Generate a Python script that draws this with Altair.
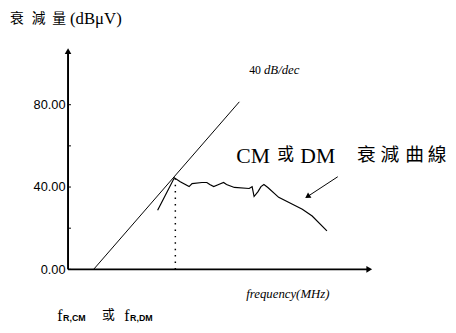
import altair as alt
import pandas as pd

# ---- data (x in arbitrary frequency units, y in dBμV) ----
asym_x = [26, 174]
asym_y = [0.0, 81.4]

curve_x = [91, 108, 114, 123, 126, 136, 141, 144, 148, 153, 158, 161, 169,
           184, 187, 189, 193, 196, 199, 203, 214, 228, 238, 248, 263]
curve_y = [28.7, 44.5, 42.6, 40.2, 41.7, 42.2, 42.2, 41.2, 40.2, 41.2, 42.2,
           41.2, 39.8, 39.3, 40.2, 35.4, 37.8, 40.2, 41.2, 39.8, 35.0, 31.6,
           29.2, 25.9, 18.7]

corner_x = 109
corner_y = 44.0

y_tick_values = [0, 20, 40, 60, 80]
y_label_values = [0, 40, 80]

pointer_x = [274, 244]
pointer_y = [45.0, 35.6]

X_MAX = 310
Y_MAX = 110

xs = alt.Scale(domain=[0, X_MAX], nice=False, zero=False)
ys = alt.Scale(domain=[0, Y_MAX], nice=False, zero=False)
yaxis = alt.Axis(values=y_label_values, format=".2f", domain=False, ticks=False,
                 grid=False, title=None, labelFont="Liberation Sans Narrow, Liberation Sans",
                 labelFontSize=13, labelColor="#000", labelPadding=3)


def X(f="x"):
    return alt.X(f"{f}:Q", scale=xs, axis=None)


def Y(f="y"):
    return alt.Y(f"{f}:Q", scale=ys, axis=yaxis)


asym_df = pd.DataFrame({"x": asym_x, "y": asym_y})
curve_df = pd.DataFrame({"x": curve_x, "y": curve_y, "i": range(len(curve_x))})

asym = alt.Chart(asym_df).mark_line(color="black", strokeWidth=1).encode(x=X(), y=Y())
curve = alt.Chart(curve_df).mark_line(color="black", strokeWidth=1.2).encode(
    x=X(), y=Y(), order="i:Q")

dotted = alt.Chart(pd.DataFrame({"x": [corner_x], "y": [0], "y2": [corner_y]})).mark_rule(
    color="black", strokeWidth=1.5, strokeDash=[1.5, 5]).encode(x=X(), y=Y(), y2="y2:Q")

# axes lines
yline = alt.Chart(pd.DataFrame({"x": [0], "y": [0], "y2": [106]})).mark_rule(
    color="black", strokeWidth=2).encode(x=X(), y=Y(), y2="y2:Q")
xline = alt.Chart(pd.DataFrame({"x": [0], "x2": [306], "y": [0]})).mark_rule(
    color="black", strokeWidth=2).encode(x=X(), x2="x2:Q", y=Y())
yarrow = alt.Chart(pd.DataFrame({"x": [0], "y": [106]})).mark_point(
    shape="triangle-up", filled=True, color="black", size=45, opacity=1).encode(x=X(), y=Y())
xarrow = alt.Chart(pd.DataFrame({"x": [306], "y": [0]})).mark_point(
    shape="triangle-right", filled=True, color="black", size=45, opacity=1).encode(x=X(), y=Y())

ticks = alt.Chart(pd.DataFrame({"x": [0] * len(y_tick_values), "x2": [3] * len(y_tick_values),
                                "y": y_tick_values})).mark_rule(
    color="black", strokeWidth=1).encode(x=X(), x2="x2:Q", y=Y())

# pointer arrow
ptr_df = pd.DataFrame({"x": pointer_x, "y": pointer_y, "i": [0, 1]})
ptr = alt.Chart(ptr_df).mark_line(color="black", strokeWidth=1).encode(x=X(), y=Y(), order="i:Q")
ptr_head = alt.Chart(pd.DataFrame({"x": [pointer_x[1]], "y": [pointer_y[1]]})).mark_point(
    shape="triangle", filled=True, color="black", size=40, opacity=1, angle=237).encode(x=X(), y=Y())


def px(p):
    return p - 69


def py(p):
    return (271 - p) * Y_MAX / 230


def txt(t, x, y, size, font="Liberation Serif", style="normal",
        weight="normal", align="left"):
    return alt.Chart(pd.DataFrame({"x": [px(x)], "y": [py(y)], "t": [t]})).mark_text(
        align=align, baseline="middle", fontSize=size, font=font, fontStyle=style,
        fontWeight=weight, color="black").encode(x=X(), y=Y(), text="t:N")


cjk = "Noto Sans CJK TC"
texts = [
    txt("衰", 17, 17, 14, font=cjk, align="center"),
    txt("減", 39, 17, 14, font=cjk, align="center"),
    txt("量", 60, 17, 14, font=cjk, align="center"),
    txt("(dBμV)", 71, 17, 17),
    txt("40", 253, 69, 12),
    txt("dB/dec", 268, 69, 13, style="italic"),
    txt("CM", 240, 156, 22),
    txt("或", 290, 155, 17, font=cjk, align="center"),
    txt("DM", 305, 156, 22),
    txt("衰", 372, 155, 19, font=cjk, align="center"),
    txt("減", 396, 155, 19, font=cjk, align="center"),
    txt("曲", 421, 155, 19, font=cjk, align="center"),
    txt("線", 444, 155, 19, font=cjk, align="center"),
    txt("frequency(MHz)", 250, 296, 13, style="italic"),
    txt("f", 58, 318, 16),
    txt("R,CM", 64, 320, 9, font="Liberation Sans", weight="bold"),
    txt("或", 110, 317, 13, font=cjk, align="center"),
    txt("f", 126, 318, 16),
    txt("R,DM", 132, 320, 9, font="Liberation Sans", weight="bold"),
]

chart = alt.layer(
    asym, curve, dotted, yline, xline, yarrow, xarrow, ticks, ptr, ptr_head, *texts
).properties(
    width=X_MAX, height=230,
    autosize=alt.AutoSizeParams(type="none"),
    padding={"left": 61, "top": 33, "right": 76, "bottom": 54},
    background="white",
).configure_view(stroke=None)

chart.save("out.html", embed_options={"renderer": "svg", "actions": False})
